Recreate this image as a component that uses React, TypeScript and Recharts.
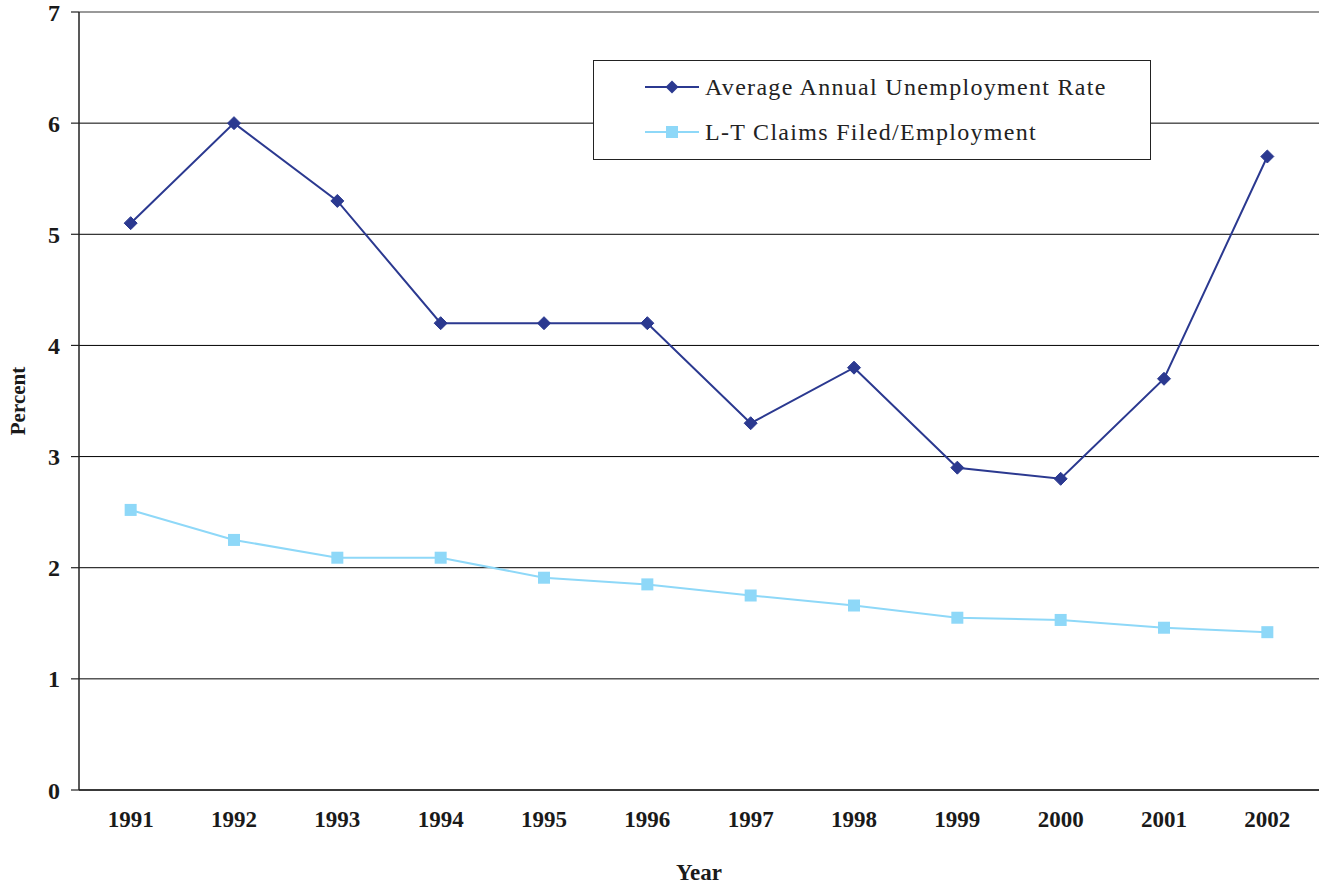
import React from "react";
import {
  LineChart,
  Line,
  XAxis,
  YAxis,
  CartesianGrid,
  ReferenceLine,
} from "recharts";

const years = ["1991", "1992", "1993", "1994", "1995", "1996", "1997", "1998", "1999", "2000", "2001", "2002"];
const unemploymentRate = [5.1, 6.0, 5.3, 4.2, 4.2, 4.2, 3.3, 3.8, 2.9, 2.8, 3.7, 5.7];
const claimsRatio = [2.52, 2.25, 2.09, 2.09, 1.91, 1.85, 1.75, 1.66, 1.55, 1.53, 1.46, 1.42];
const yTicks = [0, 1, 2, 3, 4, 5, 6, 7];
const seriesNames = ["Average Annual Unemployment Rate", "L-T Claims Filed/Employment"];

const data = years.map((y, i) => ({
  idx: i,
  year: y,
  unemp: unemploymentRate[i],
  claims: claimsRatio[i],
}));

const labelTicks = years.map((_, i) => i);
const boundaryTicks = [...years.map((_, i) => i - 0.5), years.length - 0.5];

const NAVY = "#2B3990";
const LIGHT = "#8ED8F8";
const FONT = "'Liberation Serif', 'Times New Roman', serif";

const Diamond = (props: any) => {
  const { cx, cy } = props;
  if (cx == null || cy == null) return null;
  const r = 6.5;
  return (
    <path
      d={`M${cx},${cy - r} L${cx + r},${cy} L${cx},${cy + r} L${cx - r},${cy} Z`}
      fill={NAVY}
      stroke={NAVY}
      strokeWidth={1}
    />
  );
};

const Square = (props: any) => {
  const { cx, cy } = props;
  if (cx == null || cy == null) return null;
  const r = 6;
  return <rect x={cx - r} y={cy - r} width={2 * r} height={2 * r} fill={LIGHT} />;
};

const YearTick = (props: any) => {
  const { x, y, payload } = props;
  return (
    <text
      x={x}
      y={y}
      dy={16}
      textAnchor="middle"
      fontFamily={FONT}
      fontWeight="bold"
      fontSize={23}
      fill="#1a1a1a"
    >
      {years[payload.value]}
    </text>
  );
};

const LegendBox = () => (
  <div
    style={{
      position: "absolute",
      left: 593,
      top: 60,
      width: 558,
      height: 100,
      border: "1.5px solid #222",
      background: "#fff",
      boxSizing: "border-box",
      fontFamily: FONT,
      fontSize: 24,
      color: "#222",
      letterSpacing: "1.3px",
    }}
  >
    {seriesNames.map((name, i) => (
      <div
        key={name}
        style={{
          position: "absolute",
          left: 50,
          top: i === 0 ? 13 : 58,
          display: "flex",
          alignItems: "center",
          whiteSpace: "nowrap",
          lineHeight: "26px",
        }}
      >
        <svg width={56} height={20} style={{ marginRight: 5 }}>
          <line x1={1} y1={10} x2={55} y2={10} stroke={i === 0 ? NAVY : LIGHT} strokeWidth={2} />
          {i === 0 ? (
            <path d="M28,3.5 L34.5,10 L28,16.5 L21.5,10 Z" fill={NAVY} />
          ) : (
            <rect x={22} y={4} width={12} height={12} fill={LIGHT} />
          )}
        </svg>
        <span>{name}</span>
      </div>
    ))}
  </div>
);

export default function App() {
  return (
    <div style={{ position: "absolute", left: 0, top: 0, width: 1319, height: 884, background: "#fff" }}>
      <LineChart
        width={1319}
        height={884}
        data={data}
        margin={{ top: 12, right: 0, left: 0, bottom: 0 }}
      >
        <CartesianGrid horizontal={true} vertical={false} stroke="#000" strokeWidth={1} />
        <XAxis
          xAxisId="a_ticks"
          dataKey="idx"
          type="number"
          domain={[-0.5, years.length - 0.5]}
          ticks={boundaryTicks}
          tick={false}
          tickSize={8}
          height={1}
          axisLine={{ stroke: "#222", strokeWidth: 1.5 }}
          tickLine={{ stroke: "#222", strokeWidth: 1.2 }}
          allowDecimals={true}
          interval={0}
        />
        <XAxis
          xAxisId="b_labels"
          dataKey="idx"
          type="number"
          domain={[-0.5, years.length - 0.5]}
          ticks={labelTicks}
          tick={<YearTick />}
          tickSize={0}
          tickMargin={20}
          height={93}
          axisLine={false}
          tickLine={false}
          interval={0}
          label={{
            value: "Year",
            position: "insideBottom",
            offset: 4,
            style: { fontFamily: FONT, fontWeight: "bold", fontSize: 23, fill: "#1a1a1a" },
          }}
        />
        <YAxis
          domain={[0, 7]}
          ticks={yTicks}
          width={79}
          tickSize={8}
          tickMargin={11}
          axisLine={{ stroke: "#222", strokeWidth: 1.5 }}
          tickLine={{ stroke: "#222", strokeWidth: 1.2 }}
          tick={{ fontFamily: FONT, fontWeight: "bold", fontSize: 24, fill: "#1a1a1a" }}
          interval={0}
          label={{
            value: "Percent",
            angle: -90,
            position: "insideLeft",
            offset: 18,
            style: { textAnchor: "middle", fontFamily: FONT, fontWeight: "bold", fontSize: 21, fill: "#1a1a1a" },
          }}
        />
        <ReferenceLine xAxisId="a_ticks" y={7} stroke="#999" strokeWidth={2} />
        <Line
          xAxisId="a_ticks"
          dataKey="unemp"
          name={seriesNames[0]}
          stroke={NAVY}
          strokeWidth={2}
          dot={<Diamond />}
          activeDot={false}
          isAnimationActive={false}
        />
        <Line
          xAxisId="a_ticks"
          dataKey="claims"
          name={seriesNames[1]}
          stroke={LIGHT}
          strokeWidth={2}
          dot={<Square />}
          activeDot={false}
          isAnimationActive={false}
        />
      </LineChart>
      <LegendBox />
    </div>
  );
}
